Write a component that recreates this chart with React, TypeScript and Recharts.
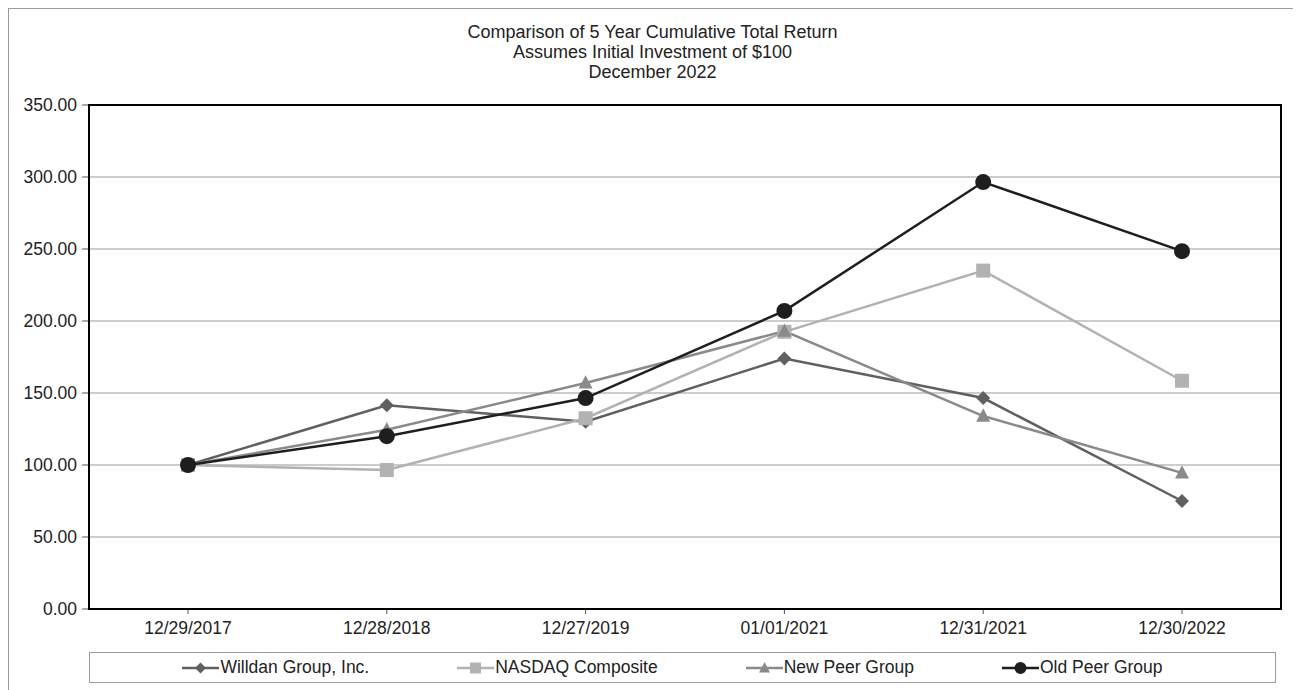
import React from "react";
import { LineChart, Line, XAxis, YAxis, CartesianGrid } from "recharts";

const dates = ["12/29/2017", "12/28/2018", "12/27/2019", "01/01/2021", "12/31/2021", "12/30/2022"];
const willdan = [100, 141.5, 130, 174, 146.5, 75];
const nasdaq = [100, 96.5, 132.5, 192.5, 235, 158.5];
const newPeer = [100, 124.5, 157, 193, 134, 94.5];
const oldPeer = [100, 120, 146.5, 207, 296.5, 248.5];
const yTicks = [0, 50, 100, 150, 200, 250, 300, 350];

const rows = dates.map((d, i) => ({
  date: d,
  willdan: willdan[i],
  nasdaq: nasdaq[i],
  newPeer: newPeer[i],
  oldPeer: oldPeer[i],
}));

type Shape = "diamond" | "square" | "triangle" | "circle";

const series: { key: string; name: string; color: string; shape: Shape }[] = [
  { key: "willdan", name: "Willdan Group, Inc.", color: "#606060", shape: "diamond" },
  { key: "nasdaq", name: "NASDAQ Composite", color: "#b2b2b2", shape: "square" },
  { key: "newPeer", name: "New Peer Group", color: "#8a8a8a", shape: "triangle" },
  { key: "oldPeer", name: "Old Peer Group", color: "#1e1e1e", shape: "circle" },
];

function marker(shape: Shape, cx: number, cy: number, s: number, color: string) {
  if (shape === "diamond")
    return <polygon points={`${cx},${cy - s} ${cx + s},${cy} ${cx},${cy + s} ${cx - s},${cy}`} fill={color} />;
  if (shape === "square") return <rect x={cx - s} y={cy - s} width={2 * s} height={2 * s} fill={color} />;
  if (shape === "triangle")
    return <polygon points={`${cx},${cy - s * 1.1} ${cx + s},${cy + s * 0.8} ${cx - s},${cy + s * 0.8}`} fill={color} />;
  return <circle cx={cx} cy={cy} r={s} fill={color} />;
}

const font = "'Liberation Sans', Arial, sans-serif";

// chart geometry
const CHART_W = 1287;
const CHART_H = 640;
const M = { top: 96, right: 15, left: 0, bottom: 10 };
const Y_W = 80;
const X_H = 30;

export default function App() {
  const plotW = CHART_W - M.left - M.right - Y_W;
  const plotH = CHART_H - M.top - M.bottom - X_H;
  return (
    <div
      style={{
        position: "relative",
        width: 1287,
        height: 681,
        border: "1px solid #9a9a9a",
        fontFamily: font,
        background: "#fff",
      }}
    >
      <div
        style={{
          position: "absolute",
          top: 13,
          left: 0,
          width: "100%",
          textAlign: "center",
          fontSize: 18,
          lineHeight: "20px",
          color: "#222",
        }}
      >
        <div>Comparison of 5 Year Cumulative Total Return</div>
        <div>Assumes Initial Investment of $100</div>
        <div>December 2022</div>
      </div>
      <div style={{ position: "absolute", top: 0, left: 0 }}>
        <LineChart width={CHART_W} height={CHART_H} data={rows} margin={M}>
          <CartesianGrid vertical={false} stroke="#999" strokeWidth={1.2} />
          <XAxis
            dataKey="date"
            height={X_H}
            padding={{ left: 99, right: 99 }}
            tickSize={5}
            tickMargin={8}
            axisLine={{ stroke: "#000", strokeWidth: 2 }}
            tickLine={{ stroke: "#555" }}
            tick={{ fill: "#222", fontSize: 17.5, fontFamily: font }}
            interval={0}
          />
          <YAxis
            width={Y_W}
            domain={[0, 350]}
            ticks={yTicks}
            tickFormatter={(v: number) => v.toFixed(2)}
            tickSize={7}
            tickMargin={5}
            axisLine={{ stroke: "#000", strokeWidth: 2 }}
            tickLine={{ stroke: "#555" }}
            tick={{ fill: "#222", fontSize: 17.5, fontFamily: font }}
          />
          {series.map((s) => (
            <Line
              key={s.key}
              dataKey={s.key}
              name={s.name}
              stroke={s.color}
              strokeWidth={2.5}
              isAnimationActive={false}
              dot={(p: any) => (
                <g key={`${s.key}-${p.index}`}>{marker(s.shape, p.cx, p.cy, s.shape === "circle" ? 8 : 7, s.color)}</g>
              )}
              activeDot={false}
            />
          ))}
        </LineChart>
      </div>
      {/* plot frame */}
      <div
        style={{
          position: "absolute",
          left: M.left + Y_W - 1,
          top: M.top - 1,
          width: plotW + 2,
          height: plotH + 2,
          boxSizing: "border-box",
          border: "2px solid #000",
          pointerEvents: "none",
        }}
      />
      <div
        style={{
          position: "absolute",
          left: 80,
          top: 643,
          width: 1165,
          height: 29,
          paddingRight: 20,
          border: "1px solid #9a9a9a",
          display: "flex",
          alignItems: "center",
          justifyContent: "center",
          gap: 88,
          fontSize: 17.5,
          color: "#222",
        }}
      >
        {series.map((s) => (
          <div key={s.key} style={{ display: "flex", alignItems: "center" }}>
            <svg width={38} height={16}>
              <line x1={0} y1={8} x2={37} y2={8} stroke={s.color} strokeWidth={2.5} />
              {marker(s.shape, 18.5, 8, s.shape === "circle" ? 6 : 5.5, s.color)}
            </svg>
            <span>{s.name}</span>
          </div>
        ))}
      </div>
    </div>
  );
}
